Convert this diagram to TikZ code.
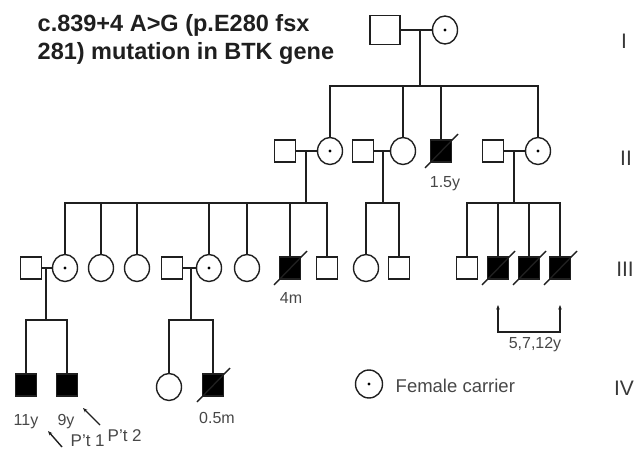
\documentclass[tikz,border=0pt]{standalone}
\usepackage{fontspec}
\setmainfont{Liberation Sans}
\usetikzlibrary{arrows.meta,calc,shapes.geometric}
\newcommand\dslash[1]{\draw ($(#1.center)+(-16,17)$) -- ($(#1.center)+(17,-17)$);}
\begin{document}
\begin{tikzpicture}[x=1pt,y=-1pt,line width=1.4pt,draw=black!88,
  sq/.style={draw,rectangle,minimum width=21pt,minimum height=22pt,inner sep=0pt},
  fem/.style={draw,ellipse,minimum width=25pt,minimum height=27pt,inner sep=0pt},
  aff/.style={sq,fill=black},
  carr/.style={fem,path picture={\fill[black] (path picture bounding box.center) circle (1.7pt);}},
  lab/.style={text=black!72,font=\fontsize{16}{18}\selectfont,inner sep=0pt,anchor=base},
  gen/.style={text=black!78,font=\fontsize{21}{24}\selectfont,inner sep=0pt,anchor=base},
  tip/.style={-{Stealth[length=4.5pt,width=3.5pt]}}]
\useasboundingbox (0,0) rectangle (635,450);
% title
\node[anchor=base west,inner sep=0pt,text=black!88,font=\fontsize{23.5}{28}\selectfont\bfseries] (t1) at (37,31) {c.839+4 A>G (p.E280 fsx};
\node[anchor=base west,inner sep=0pt,text=black!88,font=\fontsize{23.5}{28}\selectfont\bfseries] (t2) at (37,59) {281) mutation in BTK gene};
% generation labels
\node[gen] (gI) at (624,48) {I};
\node[gen] (gII) at (626,165) {II};
\node[gen] (gIII) at (625,276) {III};
\node[gen] (gIV) at (624,395) {IV};
% Gen I
\node[sq,minimum width=30pt,minimum height=29pt] (Ia) at (385,30) {};
\node[carr,minimum height=28pt] (Ib) at (445,30) {};
% Gen II
\node[sq] (IIa) at (285,151) {};
\node[carr] (IIb) at (330,151) {};
\node[sq] (IIc) at (363,151) {};
\node[fem] (IId) at (403,151) {};
\node[aff] (IIe) at (441,151) {};
\node[sq] (IIf) at (493,151) {};
\node[carr] (IIg) at (538,151) {};
% Gen III
\node[sq] (IIIa) at (31,268) {};
\node[carr] (IIIb) at (65,268) {};
\node[fem] (IIIc) at (101,268) {};
\node[fem] (IIId) at (137,268) {};
\node[sq] (IIIe) at (172,268) {};
\node[carr] (IIIf) at (209,268) {};
\node[fem] (IIIg) at (247,268) {};
\node[aff] (IIIh) at (290,268) {};
\node[sq] (IIIi) at (327,268) {};
\node[fem] (IIIj) at (366,268) {};
\node[sq] (IIIk) at (399,268) {};
\node[sq] (IIIl) at (467,268) {};
\node[aff] (IIIm) at (498,268) {};
\node[aff] (IIIn) at (529,268) {};
\node[aff] (IIIo) at (560,268) {};
% Gen IV
\node[aff] (IVa) at (26,385) {};
\node[aff] (IVb) at (67,385) {};
\node[fem] (IVc) at (169,387) {};
\node[aff] (IVd) at (213,385) {};
% sibship levels
\coordinate (sII) at (0,86);
\coordinate (sIII) at (0,203);
\coordinate (sIV) at (0,320);
% Gen I connections
\draw (Ia.east) -- (Ib.west);
\coordinate (mI) at (420,30);
\draw (mI) -- (mI |- sII);
\draw (IIb.north) -- (IIb.north |- sII) -- (IIg.north |- sII) -- (IIg.north);
\draw (IId.north) -- (IId.north |- sII);
\draw (IIe.north) -- (IIe.north |- sII);
% Gen II connections
\draw (IIa.east) -- (IIb.west);
\draw (IIc.east) -- (IId.west);
\draw (IIf.east) -- (IIg.west);
\coordinate (mIIa) at (306,151);
\coordinate (mIIb) at (383,151);
\coordinate (mIIc) at (514,151);
\draw (mIIa) -- (mIIa |- sIII);
\draw (mIIb) -- (mIIb |- sIII);
\draw (mIIc) -- (mIIc |- sIII);
\draw (IIIb.north) -- (IIIb.north |- sIII) -- (IIIi.north |- sIII) -- (IIIi.north);
\foreach \n in {IIIc,IIId,IIIf,IIIg,IIIh} \draw (\n.north) -- (\n.north |- sIII);
\draw (IIIj.north) -- (IIIj.north |- sIII) -- (IIIk.north |- sIII) -- (IIIk.north);
\draw (IIIl.north) -- (IIIl.north |- sIII) -- (IIIo.north |- sIII) -- (IIIo.north);
\foreach \n in {IIIm,IIIn} \draw (\n.north) -- (\n.north |- sIII);
% Gen III connections
\draw (IIIa.east) -- (IIIb.west);
\draw (IIIe.east) -- (IIIf.west);
\coordinate (mIIIa) at (46,268);
\coordinate (mIIIb) at (191,268);
\draw (mIIIa) -- (mIIIa |- sIV);
\draw (mIIIb) -- (mIIIb |- sIV);
\draw (IVa.north) -- (IVa.north |- sIV) -- (IVb.north |- sIV) -- (IVb.north);
\draw (IVc.north) -- (IVc.north |- sIV) -- (IVd.north |- sIV) -- (IVd.north);
% deceased
\dslash{IIe}
\dslash{IIIh}
\dslash{IIIm}
\dslash{IIIn}
\dslash{IIIo}
\dslash{IVd}
% labels
\node[lab] (l15) at (445,187) {1.5y};
\node[lab] (l4m) at (291,303) {4m};
\node[lab] (l11) at (26,425) {11y};
\node[lab] (l9) at (66,425) {9y};
\node[lab] (l05) at (217,423) {0.5m};
\node[lab] (l5712) at (535,348) {5,7,12y};
\node[lab,anchor=base west,font=\fontsize{17}{19}\selectfont] (p2) at (107,441) {P't 2};
\node[lab,anchor=base west,font=\fontsize{17}{19}\selectfont] (p1) at (70,446) {P't 1};
% patient arrows
\coordinate (a2s) at (100,425);
\coordinate (a2e) at (83,408);
\draw[tip] (a2s) -- (a2e);
\coordinate (a1s) at (62,447);
\coordinate (a1e) at (48,431);
\draw[tip] (a1s) -- (a1e);
% bracket
\coordinate (brY) at (0,305);
\coordinate (brB) at (0,332);
\draw[{Stealth[length=4.5pt,width=3.5pt]}-{Stealth[length=4.5pt,width=3.5pt]}] (IIIm.south |- brY) -- (IIIm.south |- brB) -- (IIIo.south |- brB) -- (IIIo.south |- brY);
% legend
\node[carr,minimum width=27pt,minimum height=28pt] (leg) at (369,384) {};
\node[anchor=base west,inner sep=0pt,text=black!72,font=\fontsize{18.5}{20}\selectfont] (legt) at (395,392) {Female carrier};
\end{tikzpicture}
\end{document}
